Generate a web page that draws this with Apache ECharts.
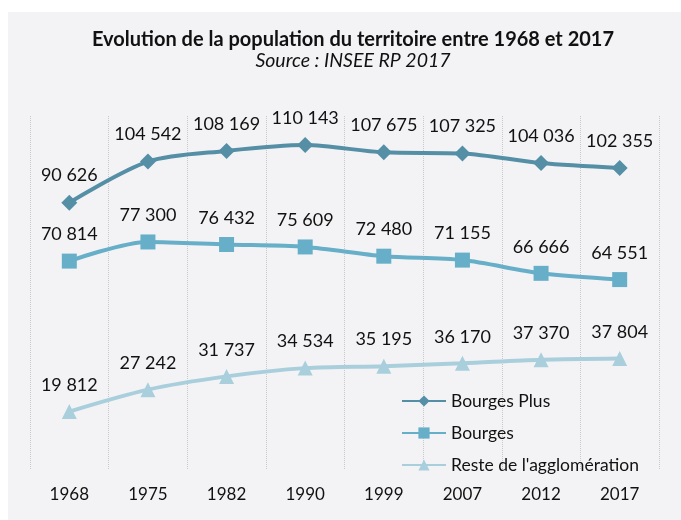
<!DOCTYPE html>
<html><head><meta charset="utf-8">
<script src="https://cdn.jsdelivr.net/npm/echarts@6/dist/echarts.min.js"></script>
<style>html,body{margin:0;padding:0;background:#fff;}#c{width:681px;height:520px;}</style>
</head><body><div id="c"></div>
<script>
const years = ['1968','1975','1982','1990','1999','2007','2012','2017'];
const bourgesPlus = [90626, 104542, 108169, 110143, 107675, 107325, 104036, 102355];
const bourges = [70814, 77300, 76432, 75609, 72480, 71155, 66666, 64551];
const reste = [19812, 27242, 31737, 34534, 35195, 36170, 37370, 37804];
const names = ['Bourges Plus', 'Bourges', "Reste de l'agglomération"];
const colors = ['#548fa6', '#67afc8', '#a9cfdc'];

const FONT = 'Lato';
const fmt = v => String(v).replace(/\B(?=(\d{3})+(?!\d))/g, ' ');
function mk(name, data, color, symbol, size) {
  return {
    name, type: 'line', data, smooth: 0.3,
    symbol, symbolSize: size,
    lineStyle: { color, width: 4 },
    itemStyle: { color },
    label: { show: true, position: 'top', distance: 10, color: '#111', fontFamily: FONT, fontSize: 18,
      formatter: p => fmt(p.value) },
    emphasis: { disabled: true }
  };
}
const chart = echarts.init(document.getElementById('c'), null, { renderer: 'canvas' });
chart.setOption({
  animation: false,
  graphic: [{ type: 'rect', shape: { x: 8, y: 12, width: 700, height: 520 }, style: { fill: '#f3f3f6' }, z: -10, silent: true }],
  title: {
    text: 'Evolution de la population du territoire entre 1968 et 2017',
    subtext: 'Source : INSEE RP 2017',
    left: 348, textAlign: 'center', top: 25, itemGap: 1,
    textStyle: { fontFamily: FONT, fontWeight: 'bold', fontSize: 20, color: '#111' },
    subtextStyle: { fontFamily: FONT, fontStyle: 'italic', fontSize: 19.5, color: '#111' }
  },
  legend: {
    orient: 'vertical', left: 396, top: 387, itemGap: 14, itemWidth: 44, itemHeight: 14,
    data: names,
    textStyle: { fontFamily: FONT, fontSize: 17.5, color: '#111' }
  },
  grid: { left: 30, right: 22, top: 116, bottom: 50 },
  xAxis: {
    type: 'category', data: years, boundaryGap: true,
    axisLine: { show: false }, axisTick: { show: false },
    axisLabel: { fontFamily: FONT, fontSize: 17, color: '#111', margin: 16 },
    splitLine: { show: true, lineStyle: { type: 'dotted', color: '#c8c8cc', width: 1 } }
  },
  yAxis: { type: 'value', min: 0, max: 120000, show: false, splitLine: { show: false } },
  series: [
    mk(names[0], bourgesPlus, colors[0], 'diamond', 16),
    mk(names[1], bourges, colors[1], 'rect', 15),
    mk(names[2], reste, colors[2], 'triangle', 15)
  ]
});
</script></body></html>
